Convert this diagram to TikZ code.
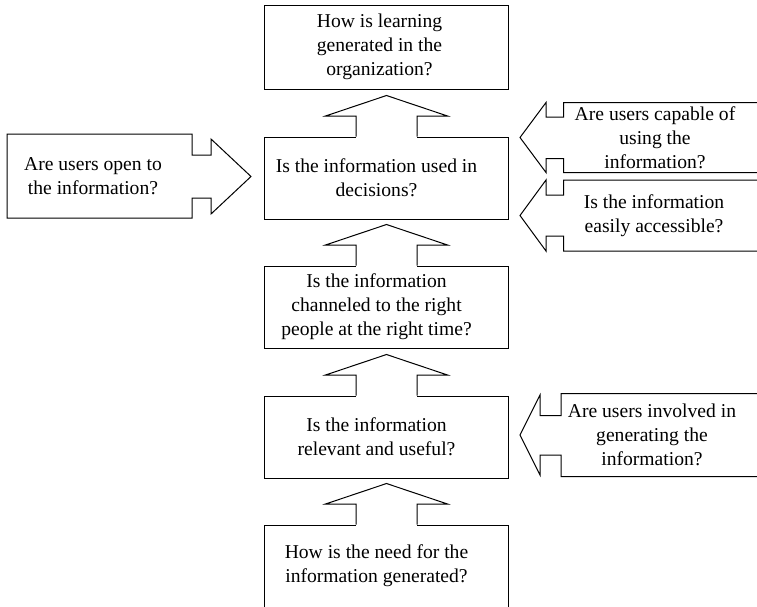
\documentclass[tikz,border=0pt]{standalone}
\usepackage{fontspec}
\setmainfont{Liberation Serif}
\begin{document}
\begin{tikzpicture}[x=1pt,y=-1pt,line width=1pt,line join=miter,
  txt/.style={align=center,font=\fontsize{19.6}{24}\selectfont,inner sep=0pt},
  mainbox/.style={draw,minimum width=244.5pt,minimum height=82pt,inner sep=0pt},
  uparr/.pic={
    \fill[white] (-30.5,1.5) rectangle (30.5,-20.5);
    \draw (-30.5,0) -- (-30.5,-20.5) -- (-61,-20.5) -- (0,-41) -- (61,-20.5) -- (30.5,-20.5) -- (30.5,0);
  }]
\useasboundingbox (0,0) rectangle (757,606);

% main column boxes
\node[mainbox,minimum height=84pt] (b1) at (386.5,47) {};
\node[mainbox] (b2) at (386.5,178) {};
\node[mainbox] (b3) at (386.5,307) {};
\node[mainbox] (b4) at (386.5,437) {};
\node[mainbox] (b5) at (386.5,566) {};

\node[txt] (t1) at ([xshift=-7pt]b1.center) {How is learning\\generated in the\\organization?};
\node[txt] (t2) at ([xshift=-10pt]b2.center) {Is the information used in\\decisions?};
\node[txt] (t3) at ([xshift=-10pt]b3.center) {Is the information\\channeled to the right\\people at the right time?};
\node[txt] (t4) at ([xshift=-10pt]b4.center) {Is the information\\relevant and useful?};
\node[txt] (t5) at ([xshift=-10pt]b5.center) {How is the need for the\\information generated?};

% upward block arrows
\pic at (b2.north) {uparr};
\pic at (b3.north) {uparr};
\pic at (b4.north) {uparr};
\pic at (b5.north) {uparr};

% left block arrow
\draw (7,134) -- (192,134) -- (192,155) -- (211,155) -- (211,139) -- (251,176.5)
  -- (211,214) -- (211,198) -- (192,198) -- (192,218) -- (7,218) -- cycle;
\node[txt] (tl) at (93,176) {Are users open to\\the information?};

% right block arrows
\draw (770,102.5) -- (563.5,102.5) -- (563.5,117) -- (546,117) -- (546,102.5) -- (520,137.5)
  -- (546,172.5) -- (546,158.5) -- (563.5,158.5) -- (563.5,172.5) -- (770,172.5);
\node[txt] (tr1) at (655,137.5) {Are users capable of\\using the\\information?};

\draw (770,180) -- (563.5,180) -- (563.5,195) -- (546,195) -- (546,180) -- (520,215.5)
  -- (546,251) -- (546,236) -- (563.5,236) -- (563.5,251) -- (770,251);
\node[txt] (tr2) at (654,215.5) {Is the information\\easily accessible?};

\draw (770,393.5) -- (561,393.5) -- (561,415.5) -- (540,415.5) -- (540,395) -- (520,435)
  -- (540,475) -- (540,455) -- (561,455) -- (561,476.5) -- (770,476.5);
\node[txt] (tr3) at (652,435) {Are users involved in\\generating the\\information?};
\end{tikzpicture}
\end{document}
